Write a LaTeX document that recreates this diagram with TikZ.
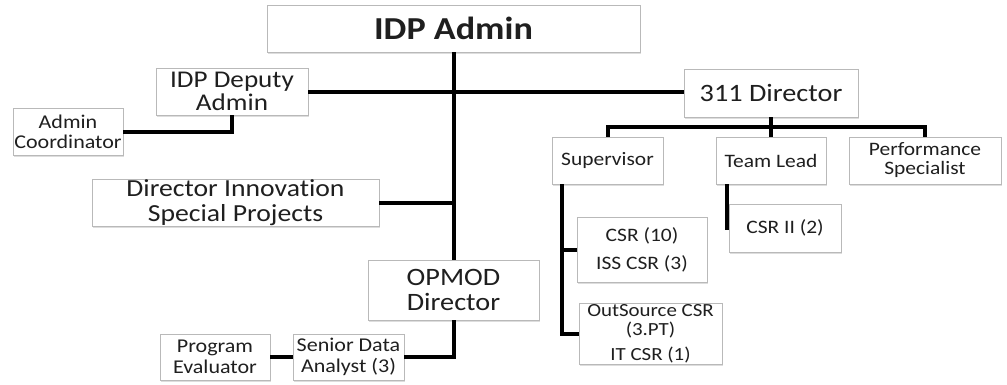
\documentclass[tikz,border=0pt]{standalone}
\usepackage{fontspec}
\setmainfont{Carlito}[FakeStretch=1.13, Ligatures=NoCommon]
\usetikzlibrary{shadows}
\tikzset{
  box/.style={draw=gray!55, line width=0.9pt, fill=white, inner sep=0pt, align=center,
    text=black!88, drop shadow={shadow xshift=1.2pt, shadow yshift=-1.5pt, fill=gray!45, opacity=0.6}},
  link/.style={line width=4pt, black},
}
\newcommand{\fs}[2]{\fontsize{#1}{#2}\selectfont}
\begin{document}
\begin{tikzpicture}[x=1pt,y=-1pt]
\useasboundingbox (0,0) rectangle (1007,384);
% nodes
\node[box, minimum width=373pt, minimum height=47pt, font=\fs{32}{34}\bfseries] (admin) at (453.5,28.5) {IDP Admin};
\node[box, minimum width=152pt, minimum height=47pt, font=\fs{24}{23}] (deputy) at (232,91.5) {IDP Deputy\\Admin};
\node[box, minimum width=174pt, minimum height=48pt, font=\fs{25}{26}] (dir) at (771,93) {311 Director};
\node[box, minimum width=110pt, minimum height=47pt, font=\fs{19.5}{20}] (coord) at (68,131.5) {Admin\\Coordinator};
\node[box, minimum width=287pt, minimum height=47pt, font=\fs{24.5}{25}] (innov) at (235.5,202.5) {Director Innovation\\Special Projects};
\node[box, minimum width=171pt, minimum height=60pt, font=\fs{25}{25}] (opmod) at (453.5,290) {OPMOD\\Director};
\node[box, minimum width=111pt, minimum height=46pt, font=\fs{19.5}{21}] (sda) at (348.5,357) {Senior Data\\Analyst (3)};
\node[box, minimum width=110pt, minimum height=46pt, font=\fs{19.5}{21}] (prog) at (215,357) {Program\\Evaluator};
\node[box, minimum width=111pt, minimum height=47pt, font=\fs{19}{19}] (sup) at (607.5,160.5) {Supervisor};
\node[box, minimum width=110pt, minimum height=47pt, font=\fs{19}{19}] (tl) at (771,160.5) {Team Lead};
\node[box, minimum width=152pt, minimum height=47pt, font=\fs{19}{19}] (perf) at (925,160.5) {Performance\\Specialist};
\node[box, minimum width=130pt, minimum height=65pt, font=\fs{19}{28}] (csr) at (642,249.5) {CSR (10)\\ISS CSR (3)};
\node[box, minimum width=143pt, minimum height=61pt, font=\fs{18.5}{19}] (outs) at (650.5,333.5) {OutSource CSR\\(3.PT)\\[6pt]IT CSR (1)};
\node[box, minimum width=112pt, minimum height=48pt, font=\fs{19}{19}] (csr2) at (785,228) {CSR II (2)};
% connectors
\coordinate (bus) at (771,127);
\draw[link] (admin.south) -- (opmod.north);
\draw[link] (opmod.south) |- (sda.east);
\draw[link] (prog.east) -- (sda.west);
\draw[link] (deputy.east) -- (deputy.east -| dir.west);
\draw[link] (coord.east) -| (deputy.south);
\draw[link] (innov.east) -- (innov.east -| admin.south);
\draw[link] (dir.south) -- (tl.north);
\draw[link] (sup.north) |- (bus) -| (perf.north);
\coordinate (supline) at ([xshift=10pt]sup.south west);
\draw[link] (supline) |- (outs.west);
\draw[link] (csr.west) -- (csr.west -| supline);
\coordinate (tlline) at ([xshift=11pt]tl.south west);
\draw[link] (tlline) |- (csr2.west);
\end{tikzpicture}
\end{document}
